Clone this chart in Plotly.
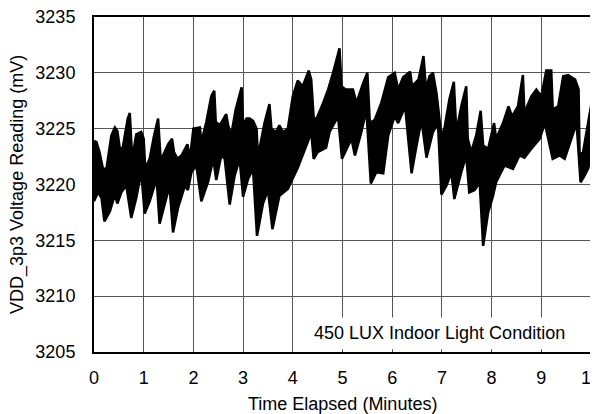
import plotly.graph_objects as go

# Upper envelope of the voltage trace (time in minutes, mV)
upper_t = [0.00, 0.05, 0.11, 0.18, 0.25, 0.35, 0.42, 0.47, 0.52, 0.58, 0.62, 0.68, 0.72, 0.76, 0.79,
           0.85, 0.95, 1.00, 1.03, 1.12, 1.21, 1.29, 1.34, 1.39, 1.49, 1.57, 1.61, 1.68, 1.76, 1.88,
           1.93, 2.00, 2.13, 2.16, 2.26, 2.36, 2.42, 2.45, 2.53, 2.66, 2.70, 2.76, 2.85, 2.97, 3.00,
           3.07, 3.13, 3.20, 3.27, 3.30, 3.43, 3.53, 3.57, 3.66, 3.73, 3.80, 3.90, 4.00, 4.10, 4.20,
           4.32, 4.37, 4.42, 4.47, 4.61, 4.71, 4.81, 4.94, 4.98, 5.06, 5.21, 5.28, 5.41, 5.50, 5.55,
           5.65, 5.78, 5.92, 6.05, 6.12, 6.22, 6.36, 6.40, 6.53, 6.63, 6.68, 6.75, 6.82, 6.89, 6.95,
           6.99, 7.05, 7.15, 7.24, 7.29, 7.39, 7.49, 7.52, 7.59, 7.69, 7.78, 7.83, 7.93, 8.05, 8.09,
           8.23, 8.34, 8.41, 8.53, 8.63, 8.66, 8.80, 8.90, 9.00, 9.10, 9.20, 9.23, 9.34, 9.44, 9.54,
           9.68, 9.75, 9.77, 9.84, 9.94, 10.00]
upper_v = [3223.9, 3223.8, 3222.9, 3221.4, 3221.4, 3224.4, 3225.1, 3224.8, 3223.2, 3223.3, 3224.4, 3225.9, 3226.4, 3223.0, 3222.9,
           3224.5, 3224.7, 3224.1, 3221.4, 3222.3, 3224.4, 3225.9, 3222.3, 3222.6, 3223.6, 3224.1, 3222.9, 3222.3, 3222.6, 3223.6,
           3222.3, 3225.0, 3225.1, 3223.8, 3225.6, 3227.9, 3228.4, 3225.6, 3225.3, 3226.3, 3225.3, 3224.4, 3226.7, 3228.7, 3225.3,
           3225.9, 3225.9, 3225.7, 3225.0, 3222.5, 3225.5, 3227.2, 3225.0, 3224.7, 3225.3, 3224.7, 3225.0, 3227.9, 3229.3, 3228.8,
           3230.2, 3229.4, 3226.0, 3225.8, 3227.3, 3228.5, 3230.0, 3232.2, 3228.8, 3228.5, 3228.5, 3227.3, 3229.0, 3230.0, 3225.5,
           3225.8, 3227.3, 3229.6, 3230.0, 3228.5, 3229.6, 3230.1, 3228.8, 3229.4, 3231.5, 3228.5, 3229.7, 3230.0, 3228.2, 3226.1,
           3224.4, 3225.0, 3227.6, 3229.2, 3224.7, 3227.0, 3228.8, 3224.1, 3222.9, 3224.4, 3226.6, 3223.5, 3223.2, 3225.5, 3224.1,
           3225.5, 3227.0, 3226.1, 3227.0, 3229.8, 3226.4, 3227.9, 3228.5, 3227.9, 3230.2, 3230.2, 3226.7, 3227.0, 3229.7, 3229.8,
           3229.4, 3228.5, 3222.6, 3222.9, 3225.5, 3227.0]

# Lower envelope of the voltage trace
lower_t = [0.00, 0.08, 0.15, 0.21, 0.32, 0.42, 0.47, 0.55, 0.65, 0.75, 0.85, 0.95, 1.02, 1.12, 1.26,
           1.32, 1.42, 1.52, 1.59, 1.69, 1.83, 1.89, 1.96, 2.06, 2.16, 2.30, 2.40, 2.46, 2.56, 2.63,
           2.73, 2.83, 2.93, 3.00, 3.10, 3.20, 3.28, 3.40, 3.50, 3.59, 3.73, 3.90, 4.10, 4.30, 4.37,
           4.42, 4.50, 4.67, 4.74, 4.91, 4.99, 5.08, 5.18, 5.25, 5.38, 5.48, 5.57, 5.68, 5.82, 5.92,
           6.05, 6.12, 6.26, 6.39, 6.49, 6.59, 6.69, 6.82, 6.92, 6.99, 7.09, 7.19, 7.25, 7.39, 7.49,
           7.55, 7.66, 7.76, 7.83, 7.93, 8.03, 8.09, 8.26, 8.43, 8.56, 8.66, 8.80, 8.97, 9.07, 9.23,
           9.37, 9.47, 9.61, 9.71, 9.79, 9.87, 9.94, 10.00]
lower_v = [3218.5, 3219.3, 3218.8, 3216.7, 3217.6, 3219.1, 3218.3, 3219.3, 3219.9, 3217.0, 3218.8, 3221.1, 3217.4, 3218.5, 3220.5,
           3216.5, 3218.2, 3219.9, 3215.7, 3217.9, 3219.9, 3219.5, 3221.1, 3221.7, 3218.5, 3220.3, 3222.3, 3220.4, 3222.6, 3222.3,
           3218.2, 3220.8, 3222.3, 3218.9, 3220.5, 3221.4, 3215.4, 3218.3, 3219.5, 3216.0, 3219.0, 3219.6, 3221.5, 3223.8, 3224.7,
           3222.3, 3222.9, 3223.3, 3224.7, 3226.1, 3222.3, 3223.2, 3224.1, 3222.6, 3224.7, 3226.7, 3220.1, 3221.1, 3221.0, 3224.4,
           3226.1, 3225.5, 3227.0, 3221.0, 3223.5, 3225.8, 3222.4, 3224.7, 3225.5, 3219.1, 3219.9, 3221.1, 3218.7, 3221.1, 3222.6,
           3219.3, 3219.5, 3220.2, 3214.5, 3217.5, 3219.0, 3220.2, 3221.7, 3221.4, 3222.6, 3222.4, 3223.2, 3224.1, 3225.5, 3222.3,
           3222.6, 3222.3, 3224.1, 3225.5, 3220.2, 3220.8, 3221.4, 3222.3]

x_ticks = [0, 1, 2, 3, 4, 5, 6, 7, 8, 9, 10]
y_ticks = [3205, 3210, 3215, 3220, 3225, 3230, 3235]
label_text = "450 LUX Indoor Light Condition"
x_title = "Time Elapsed (Minutes)"
y_title = "VDD_3p3 Voltage Reading (mV)"

FONT = "Liberation Sans, Arial, sans-serif"

band_x = upper_t + lower_t[::-1]
band_y = upper_v + lower_v[::-1]

fig = go.Figure()
fig.add_trace(go.Scatter(
    x=band_x, y=band_y, mode="lines", fill="toself",
    fillcolor="black", line=dict(color="black", width=2.5),
    hoverinfo="skip", showlegend=False,
))

fig.add_shape(type="rect", xref="x", yref="y", x0=4.1, x1=9.96, y0=3205.25, y1=3208.1,
              fillcolor="white", line=dict(width=0), layer="between")
fig.add_annotation(x=6.95, y=3206.7, xref="x", yref="y", text=label_text, showarrow=False,
                   font=dict(family=FONT, size=18, color="black"), xanchor="center", yanchor="middle")

# axis titles placed explicitly
fig.add_annotation(x=0.5, y=-0.156, xref="paper", yref="paper", text=x_title, showarrow=False,
                   font=dict(family=FONT, size=18, color="black"), xanchor="center", yanchor="middle")
fig.add_annotation(x=-0.154, y=0.5, xref="paper", yref="paper", text=y_title, showarrow=False,
                   textangle=-90, font=dict(family=FONT, size=18, color="black"),
                   xanchor="center", yanchor="middle")

# the page body adds an 8px offset; size the figure to fill the remaining window
fig.update_layout(
    template="none",
    width=590, height=406,
    margin=dict(l=86, r=7, t=9, b=62, autoexpand=False),
    plot_bgcolor="white", paper_bgcolor="white",
    font=dict(family=FONT, size=18, color="black"),
    showlegend=False,
)
fig.update_xaxes(
    range=[0, 10], tickvals=x_ticks, ticktext=[str(v) for v in x_ticks],
    showgrid=True, gridcolor="#555555", gridwidth=1,
    showline=True, linecolor="black", linewidth=2, mirror=True,
    ticks="", ticklabelstandoff=8, zeroline=False, automargin=False,
    ticklabeloverflow="allow",
)
fig.update_yaxes(
    range=[3205, 3235], tickvals=y_ticks, ticktext=[str(v) for v in y_ticks],
    showgrid=True, gridcolor="#555555", gridwidth=1,
    showline=True, linecolor="black", linewidth=2, mirror=True,
    ticks="", ticklabelstandoff=13, zeroline=False, automargin=False,
    ticklabeloverflow="allow",
)

fig.write_html("out.html")
